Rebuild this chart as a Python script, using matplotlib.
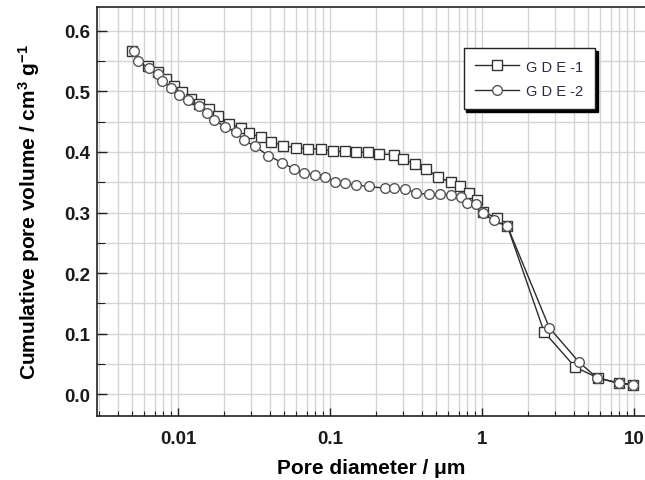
import matplotlib
matplotlib.use("Agg")
import matplotlib.pyplot as plt
import matplotlib.ticker as ticker

# ── data ──
gde1_d = [0.00499, 0.00633, 0.00736, 0.00834, 0.00937, 0.0106, 0.0122, 0.0137,
          0.0159, 0.0182, 0.0215, 0.0259, 0.0294, 0.035, 0.0411, 0.049, 0.060,
          0.0715, 0.0867, 0.104, 0.125, 0.149, 0.177, 0.209, 0.262, 0.300, 0.364,
          0.428, 0.512, 0.620, 0.717, 0.822, 0.923, 1.01, 1.25, 1.47, 2.56, 4.09,
          5.82, 7.96, 9.9]
gde1_v = [0.567, 0.542, 0.532, 0.520, 0.508, 0.499, 0.488, 0.479, 0.471, 0.459,
          0.446, 0.440, 0.431, 0.424, 0.417, 0.410, 0.407, 0.405, 0.405, 0.401,
          0.401, 0.400, 0.399, 0.397, 0.395, 0.388, 0.380, 0.371, 0.359, 0.350,
          0.343, 0.332, 0.320, 0.301, 0.291, 0.277, 0.103, 0.045, 0.027, 0.018,
          0.016]

gde2_d = [0.00514, 0.00548, 0.00641, 0.00736, 0.00789, 0.00902, 0.0102, 0.0117,
          0.0138, 0.0155, 0.0173, 0.0204, 0.0239, 0.0272, 0.0321, 0.0392, 0.0485,
          0.0577, 0.0671, 0.0793, 0.0933, 0.107, 0.126, 0.149, 0.180, 0.230, 0.265,
          0.312, 0.368, 0.451, 0.530, 0.622, 0.724, 0.793, 0.913, 1.01, 1.19, 1.47,
          2.77, 4.35, 5.73, 7.98, 9.9]
gde2_v = [0.566, 0.550, 0.538, 0.528, 0.517, 0.506, 0.494, 0.486, 0.475, 0.464,
          0.453, 0.441, 0.433, 0.419, 0.409, 0.394, 0.382, 0.372, 0.365, 0.362,
          0.359, 0.351, 0.348, 0.345, 0.343, 0.340, 0.340, 0.339, 0.332, 0.330,
          0.331, 0.329, 0.325, 0.316, 0.314, 0.300, 0.287, 0.277, 0.110, 0.053,
          0.027, 0.019, 0.016]

xticks = [0.01, 0.1, 1, 10]
xticklabels = ["0.01", "0.1", "1", "10"]

plt.rcParams["font.family"] = ["Liberation Sans", "DejaVu Sans"]
plt.rcParams["mathtext.fontset"] = "custom"
plt.rcParams["mathtext.rm"] = "Liberation Sans:bold"
plt.rcParams["mathtext.bf"] = "Liberation Sans:bold"
plt.rcParams["mathtext.it"] = "Liberation Sans:bold"

fig = plt.figure(figsize=(6.45, 4.81), dpi=100)
ax = fig.add_axes([0.1504, 0.1331, 0.8496, 0.8503])

line_c = "#2b2b2b"
ax.plot(gde1_d, gde1_v, "-s", color=line_c, lw=1.0, ms=6.5,
        mfc="white", mec="#333333", mew=1.0, label="G D E -1", zorder=3)
ax.plot(gde2_d, gde2_v, "-o", color=line_c, lw=1.0, ms=7,
        mfc="white", mec="#555555", mew=1.0, label="G D E -2", zorder=3)

ax.set_xscale("log")
ax.set_xlim(0.00293, 11.8)
ax.set_ylim(-0.0356, 0.639)

ax.set_xticks(xticks)
ax.set_xticklabels(xticklabels)
ax.xaxis.set_minor_locator(ticker.LogLocator(base=10, subs=range(2, 10), numticks=20))
ax.xaxis.set_minor_formatter(ticker.NullFormatter())
ax.yaxis.set_major_locator(ticker.MultipleLocator(0.1))
ax.yaxis.set_minor_locator(ticker.MultipleLocator(0.05))
ax.yaxis.set_major_formatter(ticker.FormatStrFormatter("%.1f"))

ax.grid(True, which="both", color="#d4d4d4", lw=1.0, zorder=0)
ax.set_axisbelow(True)

ax.tick_params(which="major", direction="in", length=6, width=1, labelsize=13.5,
               color="#222222")
ax.tick_params(which="minor", direction="in", length=3.5, width=0.8, color="#222222")
ax.tick_params(axis="x", which="major", pad=10)
ax.tick_params(axis="y", which="major", length=7, pad=5)
ax.tick_params(axis="y", which="minor", length=5.5)
for lab in ax.get_xticklabels() + ax.get_yticklabels():
    lab.set_fontweight("bold")
    lab.set_color("#1a1a1a")

for sp in ["left", "bottom", "top"]:
    ax.spines[sp].set_linewidth(1.2)
    ax.spines[sp].set_color("#222222")
ax.spines["right"].set_visible(False)

ax.set_xlabel("Pore diameter / μm", fontsize=15, fontweight="bold", labelpad=8)
ax.set_ylabel(r"Cumulative pore volume / cm$^{3}$ g$^{-1}$", fontsize=15,
              fontweight="bold", labelpad=16)

leg = ax.legend(loc="upper right", bbox_to_anchor=(0.909, 0.900), borderaxespad=0,
                fancybox=False, framealpha=1, edgecolor="#222222", fontsize=10.5,
                handlelength=3.0, handletextpad=0.5, borderpad=0.8,
                labelspacing=0.7, shadow={"color": "black", "alpha": 1})
leg.get_frame().set_linewidth(1.0)
for t in leg.get_texts():
    t.set_color("#2a2a44")

fig.savefig("out.png", dpi=100)
